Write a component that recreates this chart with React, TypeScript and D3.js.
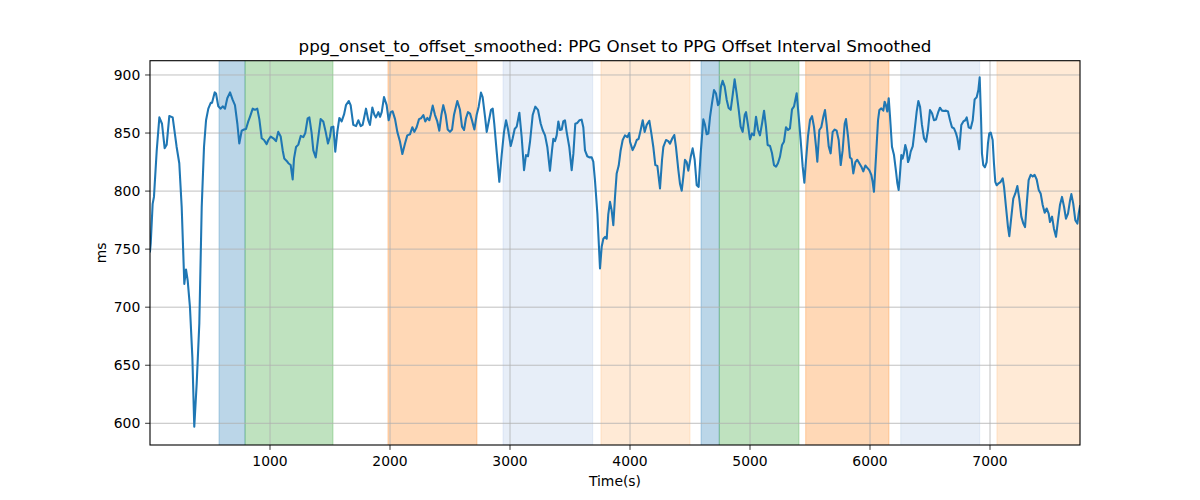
import React from "react";
import * as d3 from "d3";

// ---- data: [time(s), ms] ----
const seg1: [number, number][] = [
  [0, 748], [6, 755], [22, 789], [33, 795], [56, 835], [78, 863.5], [100, 858], [122, 837], [139, 840], [161, 864.7],
  [189, 863.5], [222, 838], [244, 824], [264, 786.5], [286, 720], [300, 732.5], [314, 723], [333, 700], [353, 657],
  [369, 597], [389, 634], [411, 686], [431, 786.5], [450, 838], [467, 861], [486, 871], [506, 876], [517, 876],
  [539, 885], [550, 884], [569, 873], [589, 871], [606, 873], [625, 871], [644, 880], [667, 885], [689, 878.5],
  [708, 874], [728, 858], [744, 841], [764, 852], [783, 853], [800, 853.5], [819, 860], [833, 864], [856, 871],
  [875, 870], [894, 871], [911, 862], [931, 845.5], [950, 844], [972, 840.5], [986, 844], [1006, 847], [1028, 845.5],
  [1050, 843], [1069, 851], [1089, 847], [1106, 835], [1119, 828], [1139, 826], [1153, 824], [1172, 822.5],
  [1189, 810], [1200, 828], [1217, 838], [1236, 840], [1256, 847.5], [1278, 846.5], [1294, 850], [1314, 862.7],
  [1328, 863.5], [1347, 850], [1361, 835], [1381, 829], [1403, 847], [1422, 862], [1444, 860], [1464, 851],
  [1483, 841], [1500, 847], [1511, 855], [1528, 855.5], [1544, 834], [1561, 851], [1578, 863], [1597, 860],
  [1617, 866], [1633, 874], [1656, 877.6], [1672, 874], [1694, 857], [1717, 856], [1736, 861], [1756, 856],
  [1772, 857], [1800, 871], [1819, 861], [1833, 857], [1853, 872], [1869, 866], [1883, 863.5], [1903, 868],
  [1917, 864], [1931, 868], [1950, 881], [1972, 874], [1989, 861],
];

const seg2: [number, number][] = [
  [2006, 868], [2022, 868.7], [2042, 862], [2061, 851], [2083, 842.7], [2103, 832], [2125, 841], [2144, 848],
  [2167, 849], [2186, 855], [2203, 851], [2222, 855], [2242, 862], [2258, 862.7], [2278, 865.5], [2294, 860],
  [2311, 863], [2328, 861], [2339, 865.5], [2356, 873.6], [2375, 865.5], [2394, 860], [2411, 852], [2428, 865.5],
  [2444, 874], [2464, 865.5], [2481, 853], [2500, 851], [2517, 853], [2533, 865.5], [2561, 877.6], [2583, 870],
  [2600, 855.5], [2617, 852.6], [2633, 862.7], [2650, 868], [2667, 866.7], [2683, 861], [2703, 853], [2722, 865.5],
  [2739, 872.7], [2758, 884.8], [2772, 881], [2792, 864], [2806, 851], [2825, 861], [2842, 870], [2856, 871],
  [2869, 858], [2889, 834], [2911, 808], [2931, 831.5], [2950, 851], [2967, 861], [2983, 853.5], [3006, 838.8],
  [3022, 845.3], [3039, 853.5], [3056, 855.5], [3078, 867.5], [3097, 847], [3117, 818], [3133, 831], [3150, 830],
  [3167, 842.7], [3189, 865.5], [3211, 872.7], [3233, 870], [3256, 858], [3272, 852.6], [3292, 848], [3311, 838],
  [3333, 817.5], [3350, 835], [3361, 845], [3375, 843], [3389, 848], [3403, 860], [3417, 852.6], [3431, 853],
  [3444, 860], [3458, 861], [3472, 851], [3494, 838], [3514, 818], [3528, 832], [3544, 858], [3561, 858.7],
  [3578, 861], [3597, 861.5], [3611, 855], [3625, 835], [3644, 830], [3661, 829], [3681, 829], [3694, 825.3],
  [3708, 809.5], [3728, 780.7], [3750, 733.4], [3764, 752], [3778, 759], [3792, 760.5], [3806, 759], [3819, 780],
  [3833, 790.8], [3847, 783.6], [3861, 770.7], [3875, 795], [3889, 815.2], [3906, 822], [3922, 835], [3939, 844],
  [3958, 848], [3978, 846.5], [3994, 850],
];

const seg3: [number, number][] = [
  [4000, 842.5], [4022, 835.3], [4039, 839], [4056, 844], [4072, 845], [4089, 852.6], [4106, 861], [4122, 851],
  [4139, 857], [4161, 860.6], [4178, 849.7], [4194, 838.2], [4211, 822.4], [4228, 821.7], [4250, 802.3], [4267, 827],
  [4278, 838], [4300, 844], [4319, 843], [4333, 840.8], [4353, 845.5], [4369, 848.3], [4383, 838], [4403, 818],
  [4417, 806], [4431, 800.3], [4444, 812], [4458, 827], [4472, 825], [4486, 817.6], [4506, 829.5], [4522, 836.8],
  [4539, 827], [4556, 805], [4572, 803.6], [4589, 832.5], [4611, 861.8], [4625, 857], [4639, 849], [4653, 849.5],
  [4667, 864], [4683, 875.6], [4700, 887], [4717, 884], [4733, 874], [4744, 875.6], [4758, 890], [4772, 895],
  [4789, 890], [4806, 878.5], [4822, 871.5], [4839, 870], [4856, 883], [4872, 896.3], [4889, 884], [4906, 870],
  [4922, 855.5], [4939, 851], [4956, 865.5], [4967, 868], [4983, 857], [5000, 844.6], [5017, 849.7], [5033, 848],
  [5050, 864], [5067, 852.6], [5083, 848], [5100, 858], [5117, 869.2], [5133, 855.5], [5147, 839.7], [5167, 838.8],
  [5183, 832.8], [5200, 822.4], [5217, 821], [5233, 824], [5250, 829.7], [5267, 839.7], [5283, 842.5], [5300, 855],
  [5317, 852.6], [5333, 854], [5350, 870.4], [5367, 873], [5389, 884.2], [5406, 864], [5422, 844], [5439, 821],
  [5453, 807.2], [5467, 827], [5483, 846.8], [5500, 861.2], [5517, 864.5], [5533, 855.5], [5550, 838.5],
  [5561, 825.3], [5578, 852.6], [5594, 855], [5611, 864], [5625, 869.8], [5639, 857], [5656, 838.5], [5672, 832.5],
  [5689, 851], [5706, 853], [5722, 852], [5739, 844], [5756, 822.4], [5772, 835], [5789, 858], [5800, 862],
  [5817, 847], [5833, 829], [5847, 827.6], [5861, 815.2], [5878, 825], [5894, 827], [5911, 824], [5928, 821],
  [5944, 817], [5961, 822], [5978, 820], [5994, 818],
];

const seg4: [number, number][] = [
  [6011, 814], [6022, 808], [6033, 799.4], [6050, 829.6], [6067, 861.2], [6078, 869.8], [6094, 871.2], [6111, 869.3],
  [6122, 877], [6133, 874], [6144, 868.5], [6156, 880], [6167, 864], [6183, 838.2], [6200, 831], [6217, 816.7],
  [6228, 806.7], [6239, 800.9], [6250, 815], [6261, 831], [6272, 828], [6283, 832.5], [6294, 839.7], [6306, 835],
  [6317, 825], [6328, 828], [6339, 834], [6356, 838.5], [6372, 852.6], [6389, 868.5], [6403, 877.6], [6417, 872.7],
  [6433, 857], [6450, 845.5], [6467, 842.5], [6483, 852.6], [6500, 869.8], [6517, 867], [6533, 861], [6550, 861.7],
  [6567, 867.5], [6583, 871.8], [6600, 869.3], [6617, 869], [6633, 869.3], [6650, 868.5], [6667, 861], [6683, 855],
  [6700, 854], [6717, 849.7], [6728, 845.5], [6744, 836], [6761, 857], [6778, 860], [6794, 861], [6806, 863.5],
  [6822, 855], [6839, 854], [6856, 861], [6872, 879], [6889, 880.8], [6903, 887], [6914, 898], [6925, 864],
  [6933, 832.5], [6944, 822.4], [6958, 820.5], [6972, 825], [6983, 841], [6994, 849.7], [7006, 850.4], [7022, 844],
  [7033, 824], [7044, 808], [7056, 805], [7072, 806.7], [7089, 808], [7106, 811], [7117, 803.6], [7133, 786.5],
  [7150, 769], [7161, 761.2], [7178, 778], [7194, 793.5], [7211, 798], [7228, 804.3], [7244, 793.5], [7261, 778],
  [7278, 772], [7292, 769], [7306, 789], [7322, 809.5], [7339, 814], [7356, 812.5], [7372, 814], [7389, 810],
  [7406, 801], [7422, 798], [7439, 788], [7456, 781.3], [7472, 785], [7489, 780.6], [7500, 773.4], [7517, 778],
  [7533, 767.6], [7550, 760.6], [7567, 775], [7583, 788], [7600, 795], [7617, 786.5], [7633, 776.3], [7650, 780.6],
  [7667, 792], [7678, 797.4], [7694, 789], [7711, 775], [7728, 772], [7739, 780.6], [7750, 787],
];

const series = [...seg1, ...seg2, ...seg3, ...seg4];

// shaded intervals (time in s)
const spanStarts = [575, 792, 1983, 2942, 3758, 4592, 4744, 5464, 6256, 7058];
const spanEnds = [792, 1525, 2725, 3689, 4500, 4744, 5408, 6158, 6914, 7750];
const spanKinds = [0, 1, 2, 3, 4, 0, 1, 2, 3, 4];
const kindColors = ["#1f77b4", "#2ca02c", "#ff7f0e", "#aec7e8", "#ffbb78"];

const xTicks = [1000, 2000, 3000, 4000, 5000, 6000, 7000];
const yTicks = [600, 650, 700, 750, 800, 850, 900];
const xDomain: [number, number] = [0, 7750];
const yDomain: [number, number] = [581.3, 912.3];

const titleText = "ppg_onset_to_offset_smoothed: PPG Onset to PPG Offset Interval Smoothed";

const W = 1200, H = 500;
const L = 150, R = 1080, T = 60.7, B = 445;
const font = "DejaVu Sans, Verdana, sans-serif";

export default function App() {
  const x = d3.scaleLinear().domain(xDomain).range([L, R]);
  const y = d3.scaleLinear().domain(yDomain).range([B, T]);
  const line = d3
    .line<[number, number]>()
    .x((d) => x(d[0]))
    .y((d) => y(d[1]));
  const path = line(series) || "";

  return (
    <svg
      width={W}
      height={H}
      viewBox={`0 0 ${W} ${H}`}
      style={{ position: "absolute", left: 0, top: 0, background: "#fff" }}
    >
      <rect x={0} y={0} width={W} height={H} fill="#fff" />
      <defs>
        <clipPath id="plotclip">
          <rect x={L} y={T} width={R - L} height={B - T} />
        </clipPath>
      </defs>
      <g clipPath="url(#plotclip)">
        {spanStarts.map((s, i) => {
          const c = kindColors[spanKinds[i]];
          return (
            <rect
              key={i}
              x={x(s)}
              y={T - 2}
              width={x(spanEnds[i]) - x(s)}
              height={B - T + 4}
              fill={c}
              fillOpacity={0.3}
              stroke={c}
              strokeOpacity={0.3}
              strokeWidth={1}
            />
          );
        })}
      </g>
      {/* grid */}
      <g stroke="#b0b0b0" strokeWidth={0.8}>
        {xTicks.map((t) => (
          <line key={"gx" + t} x1={x(t)} x2={x(t)} y1={T} y2={B} />
        ))}
        {yTicks.map((t) => (
          <line key={"gy" + t} x1={L} x2={R} y1={y(t)} y2={y(t)} />
        ))}
      </g>
      <g clipPath="url(#plotclip)">
        <path d={path} fill="none" stroke="#1f77b4" strokeWidth={2.08} strokeLinejoin="round" strokeLinecap="square" />
      </g>
      {/* frame */}
      <rect x={L} y={T} width={R - L} height={B - T} fill="none" stroke="#000" strokeWidth={1.1} />
      {/* x ticks */}
      <g fontFamily={font} fontSize={13.9} fill="#000">
        {xTicks.map((t) => (
          <g key={"xt" + t}>
            <line x1={x(t)} x2={x(t)} y1={B} y2={B + 4.9} stroke="#000" strokeWidth={0.8} />
            <text x={x(t)} y={B + 20.5} textAnchor="middle">
              {t}
            </text>
          </g>
        ))}
        {yTicks.map((t) => (
          <g key={"yt" + t}>
            <line x1={L - 4.9} x2={L} y1={y(t)} y2={y(t)} stroke="#000" strokeWidth={0.8} />
            <text x={L - 9.7} y={y(t)} textAnchor="end" dominantBaseline="central">
              {t}
            </text>
          </g>
        ))}
        <text x={(L + R) / 2} y={486} textAnchor="middle">
          Time(s)
        </text>
        <text
          transform={`translate(${106},${(T + B) / 2}) rotate(-90)`}
          textAnchor="middle"
        >
          ms
        </text>
      </g>
      <text
        x={(L + R) / 2}
        y={52}
        textAnchor="middle"
        fontFamily={font}
        fontSize={16.7}
        fill="#000"
      >
        {titleText}
      </text>
    </svg>
  );
}
